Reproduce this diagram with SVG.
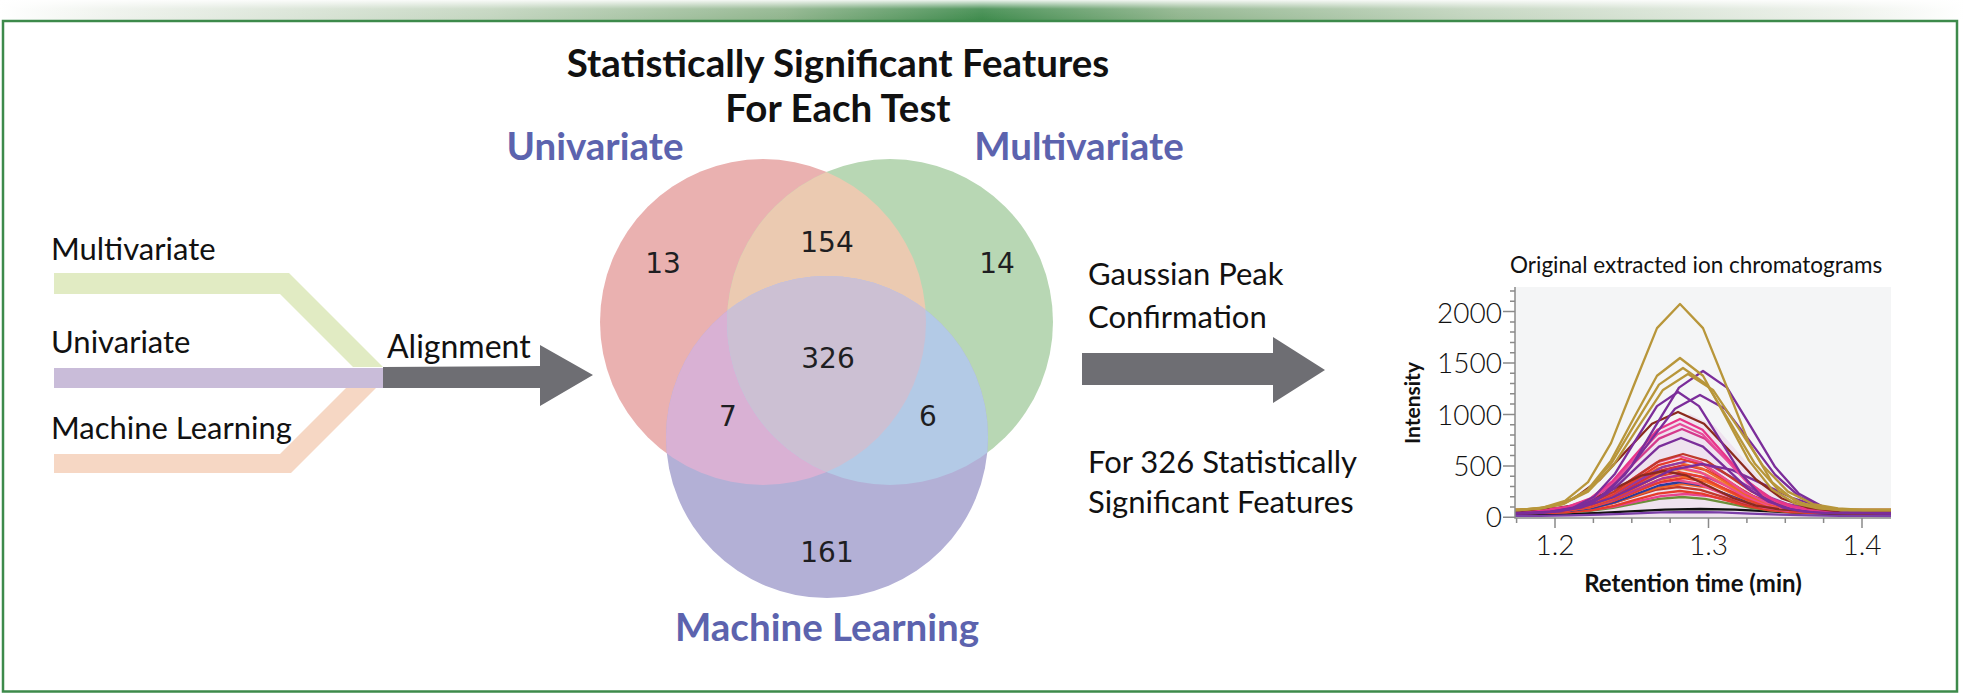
<svg xmlns="http://www.w3.org/2000/svg" xmlns:xlink="http://www.w3.org/1999/xlink" width="1964" height="697" viewBox="0 0 1964 697">
<style>
.lab{font-family:Lato,"Open Sans","Liberation Sans",sans-serif;font-size:31px;fill:#111}
.ttl{font-family:Lato,"Open Sans","Liberation Sans",sans-serif;font-size:38.5px;font-weight:700;fill:#111;text-anchor:middle}
.set{font-family:Lato,"Open Sans","Liberation Sans",sans-serif;font-size:38.5px;font-weight:700;fill:#5c63ae;text-anchor:middle}
.num{font-family:"DejaVu Sans",sans-serif;font-size:28px;fill:#1e1e22;text-anchor:middle}
.tick{font-family:Lato,"Open Sans","Liberation Sans",sans-serif;font-size:28px;font-weight:300;fill:#111}
.ax{font-family:Lato,"Open Sans","Liberation Sans",sans-serif;font-size:21px;font-weight:700;fill:#111;text-anchor:middle}
.tr{fill:none;stroke-width:2.3;stroke-linejoin:round}
</style>
<defs>
<linearGradient id="topg" x1="0" y1="0" x2="1" y2="0">
<stop offset="0" stop-color="#ffffff"/>
<stop offset="0.06" stop-color="#eef2ec"/>
<stop offset="0.25" stop-color="#c3d5bf"/>
<stop offset="0.4" stop-color="#8fb48c"/>
<stop offset="0.5" stop-color="#3f8b4d"/>
<stop offset="0.6" stop-color="#8fb48c"/>
<stop offset="0.75" stop-color="#c3d5bf"/>
<stop offset="0.94" stop-color="#eef2ec"/>
<stop offset="1" stop-color="#ffffff"/>
</linearGradient>
<linearGradient id="topv" x1="0" y1="0" x2="0" y2="1">
<stop offset="0" stop-color="#ffffff" stop-opacity="0.9"/>
<stop offset="0.45" stop-color="#ffffff" stop-opacity="0.1"/>
<stop offset="1" stop-color="#ffffff" stop-opacity="0"/>
</linearGradient>
<clipPath id="cR"><circle cx="763" cy="322" r="163"/></clipPath>
<clipPath id="cG"><circle cx="890" cy="322" r="163"/></clipPath>
<clipPath id="plot"><rect x="1515" y="287" width="376" height="231"/></clipPath>
<path id="g" vector-effect="non-scaling-stroke" d="M-9,0 L-3.5,0 L-3,-0.011 L-2.5,-0.044 L-2,-0.135 L-1.5,-0.325 L-1,-0.607 L-0.5,-0.883 L0,-1 L0.5,-0.883 L1,-0.607 L1.5,-0.325 L2,-0.135 L2.5,-0.044 L3,-0.011 L3.5,0 L9,0"/>
</defs>

<rect width="1964" height="697" fill="#ffffff"/>
<rect x="0" y="0" width="1964" height="20" fill="url(#topg)"/>
<rect x="0" y="0" width="1964" height="20" fill="url(#topv)"/>
<rect x="3" y="21" width="1954" height="670.5" fill="none" stroke="#3d8a4b" stroke-width="2.5"/>

<g id="inputs">
<polygon points="54,273 289,273 383,367 353,367 280,294 54,294" fill="#e1ebc3"/>
<polygon points="54,454 280,454 357,377 387,377 291,473 54,473" fill="#f6d7c4"/>
<rect x="54" y="368" width="330" height="20" fill="#c9bcd9"/>
<text class="lab" x="51" y="260">Multivariate</text>
<text class="lab" x="51" y="353">Univariate</text>
<text class="lab" x="51" y="439">Machine Learning</text>
</g>

<g id="connectors">
<polygon points="383,367 540,366 540,345 593,375 540,406 540,388 383,388" fill="#6e6e73"/>
<text class="lab" x="387" y="358" style="font-size:32px">Alignment</text>
<polygon points="1082,353 1273,353 1273,337 1325,370 1273,403 1273,385 1082,385" fill="#6e6e73"/>
</g>

<g id="title">
<text class="ttl" x="838" y="77">Statistically Significant Features</text>
<text class="ttl" x="838" y="122">For Each Test</text>
</g>

<g id="venn">
<circle cx="763" cy="322" r="163" fill="#eab1b0"/>
<circle cx="890" cy="322" r="163" fill="#b8d7b4"/>
<circle cx="827" cy="437" r="161" fill="#b3b0d6"/>
<circle cx="890" cy="322" r="163" fill="#ebcab1" clip-path="url(#cR)"/>
<circle cx="827" cy="437" r="161" fill="#d9b1d4" clip-path="url(#cR)"/>
<circle cx="827" cy="437" r="161" fill="#b3cae6" clip-path="url(#cG)"/>
<g clip-path="url(#cG)"><circle cx="827" cy="437" r="161" fill="#ccc0d3" clip-path="url(#cR)"/></g>
<text class="set" x="595" y="160">Univariate</text>
<text class="set" x="1079" y="160">Multivariate</text>
<text class="set" x="827" y="641">Machine Learning</text>
<text class="num" x="663" y="273">13</text>
<text class="num" x="827" y="252">154</text>
<text class="num" x="997" y="273">14</text>
<text class="num" x="828" y="368">326</text>
<text class="num" x="728" y="426">7</text>
<text class="num" x="928" y="426">6</text>
<text class="num" x="827" y="562">161</text>
</g>

<g id="step">
<text class="lab" x="1088" y="285">Gaussian Peak</text>
<text class="lab" x="1088" y="328">Confirmation</text>
<text class="lab" x="1088" y="473">For 326 Statistically</text>
<text class="lab" x="1088" y="513">Significant Features</text>
</g>

<g id="chart">
<text class="lab" x="1510" y="273" style="font-size:22.5px">Original extracted ion chromatograms</text>
<rect x="1515" y="287" width="376" height="231" fill="#f4f5f6"/>
<g clip-path="url(#plot)">
<use href="#g" transform="translate(1690,517) scale(50,103)" fill="#efe3ef" stroke="none"/>
<g class="tr">
<use href="#g" transform="translate(1700,515) scale(70,6)" stroke="#111"/>
<use href="#g" transform="translate(1690,516) scale(60,4)" stroke="#7a3fa8"/>
<use href="#g" transform="translate(1682,513) scale(46,16)" stroke="#6b8e3a"/>
<use href="#g" transform="translate(1685,513) scale(48,19)" stroke="#e8438f"/>
<use href="#g" transform="translate(1680,513) scale(44,22)" stroke="#e53b2c"/>
<use href="#g" transform="translate(1678,512) scale(45,25)" stroke="#c0392b"/>
<use href="#g" transform="translate(1683,512) scale(46,28)" stroke="#f0642a"/>
<use href="#g" transform="translate(1681,512) scale(44,30)" stroke="#2b3c9e"/>
<use href="#g" transform="translate(1676,512) scale(44,32)" stroke="#ec4d8c"/>
<use href="#g" transform="translate(1684,512) scale(47,34)" stroke="#e53b2c"/>
<use href="#g" transform="translate(1680,512) scale(45,36)" stroke="#f26b2a"/>
<use href="#g" transform="translate(1686,512) scale(48,38)" stroke="#b43590"/>
<use href="#g" transform="translate(1679,512) scale(44,40)" stroke="#e8412c"/>
<use href="#g" transform="translate(1682,511) scale(46,42)" stroke="#f08a3a"/>
<use href="#g" transform="translate(1678,511) scale(45,44)" stroke="#ec4d8c"/>
<use href="#g" transform="translate(1684,511) scale(46,46)" stroke="#d62f3a"/>
<use href="#g" transform="translate(1680,511) scale(45,48)" stroke="#f0642a"/>
<use href="#g" transform="translate(1688,511) scale(50,50)" stroke="#8e3aa5"/>
<use href="#g" transform="translate(1681,511) scale(45,52)" stroke="#e53b2c"/>
<use href="#g" transform="translate(1679,510) scale(44,54)" stroke="#ec4d8c"/>
<use href="#g" transform="translate(1683,510) scale(46,56)" stroke="#c0392b"/>
<use href="#g" transform="translate(1664,511) scale(46,40)" stroke="#8b2a1e"/>
<use href="#g" transform="translate(1702,514) scale(60,50)" stroke="#7b2d9a"/>
<use href="#g" transform="translate(1681,512) scale(44,74)" stroke="#7b2d9a"/>
<use href="#g" transform="translate(1682,511) scale(46,82)" stroke="#d43a8c"/>
<use href="#g" transform="translate(1680,511) scale(45,87)" stroke="#e84a9a"/>
<use href="#g" transform="translate(1680,511) scale(45,92)" stroke="#e8358a"/>
<use href="#g" transform="translate(1678,512) scale(52,100)" stroke="#8b2a1e"/>
<use href="#g" transform="translate(1700,513) scale(50,118)" stroke="#7b2d9a"/>
<use href="#g" transform="translate(1678,513) scale(42,121)" stroke="#7b2d9a"/>
<use href="#g" transform="translate(1703,513) scale(48,142)" stroke="#7b2d9a"/>
<use href="#g" transform="translate(1688,510) scale(50,136)" stroke="#b8963a"/>
<use href="#g" transform="translate(1683,510) scale(48,142)" stroke="#b8963a"/>
<use href="#g" transform="translate(1680,510) scale(46,152)" stroke="#b8963a"/>
<use href="#g" transform="translate(1680,510) scale(46,206)" stroke="#b8963a"/>
</g>
</g>
<g stroke="#8a8a8a" stroke-width="1.5" fill="none">
<path d="M1515,287 V518 H1891"/>
<path d="M1503,517.3 H1515 M1503,465.9 H1515 M1503,414.4 H1515 M1503,363 H1515 M1503,311.6 H1515"/>
<path d="M1510,507 H1515 M1510,496.7 H1515 M1510,486.4 H1515 M1510,476.2 H1515 M1510,455.6 H1515 M1510,445.3 H1515 M1510,435 H1515 M1510,424.7 H1515 M1510,404.1 H1515 M1510,393.8 H1515 M1510,383.6 H1515 M1510,373.3 H1515 M1510,352.7 H1515 M1510,342.4 H1515 M1510,332.1 H1515 M1510,321.9 H1515 M1510,301.3 H1515 M1510,291 H1515"/>
<path d="M1555,518 V528 M1708.5,518 V528 M1862,518 V528"/>
<path d="M1516.6,518 V523 M1593.4,518 V523 M1631.8,518 V523 M1670.1,518 V523 M1746.9,518 V523 M1785.3,518 V523 M1823.6,518 V523"/>
</g>
<g class="tick">
<text x="1502" y="323" text-anchor="end">2000</text>
<text x="1502" y="373" text-anchor="end">1500</text>
<text x="1502" y="425" text-anchor="end">1000</text>
<text x="1502" y="476" text-anchor="end">500</text>
<text x="1502" y="527" text-anchor="end">0</text>
<text x="1555" y="555" text-anchor="middle">1.2</text>
<text x="1708.5" y="555" text-anchor="middle">1.3</text>
<text x="1862" y="555" text-anchor="middle">1.4</text>
</g>
<text class="ax" transform="translate(1420,403) rotate(-90)">Intensity</text>
<text class="ax" x="1693" y="592" style="font-size:24px">Retention time (min)</text>
</g>
</svg>
